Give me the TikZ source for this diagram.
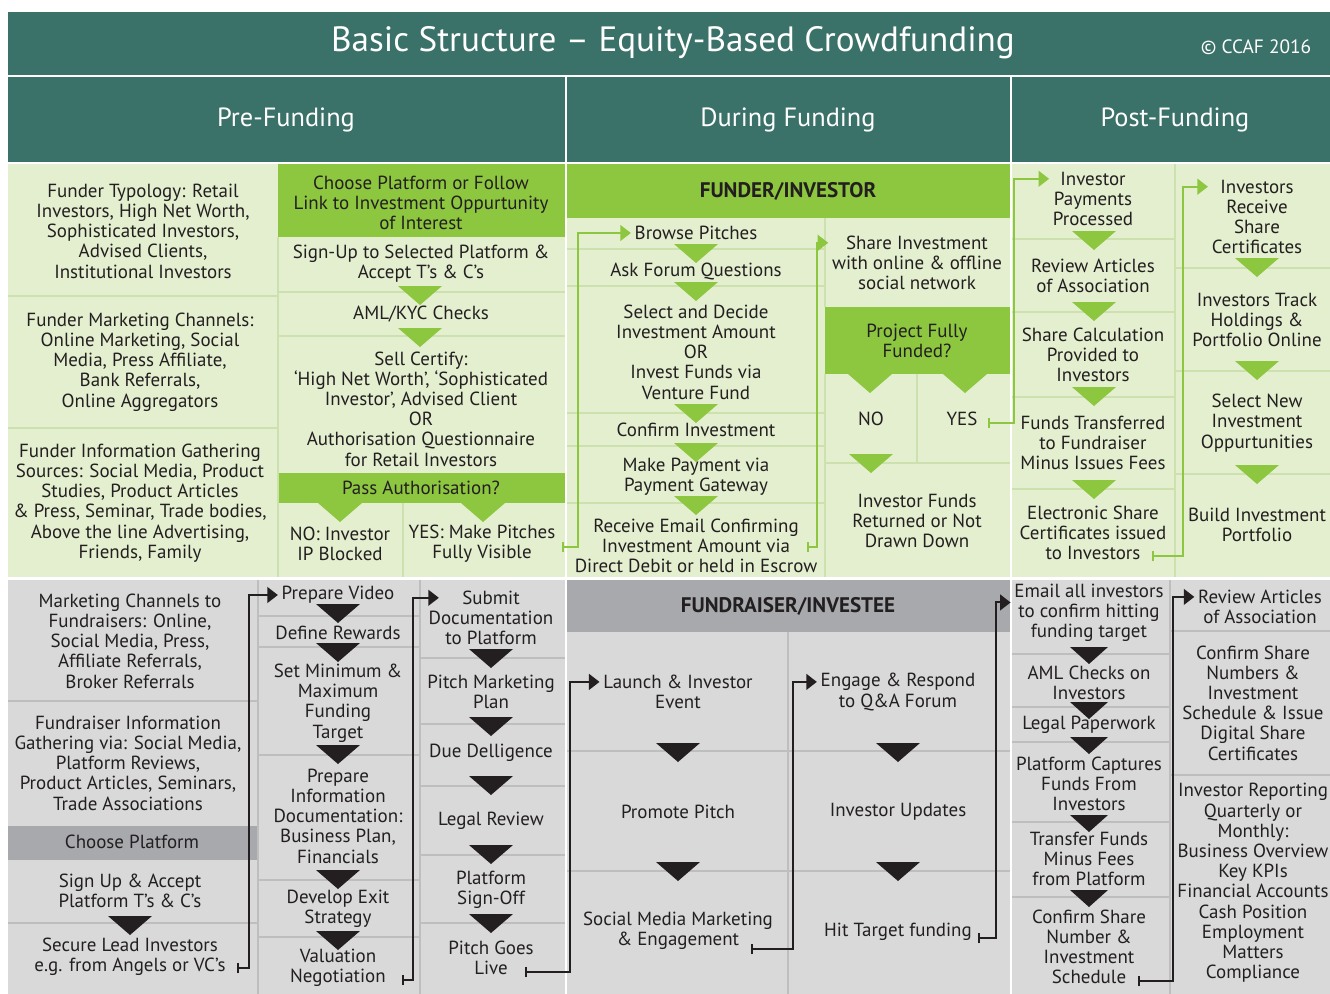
\documentclass[tikz,border=0pt]{standalone}
\usepackage{fontspec}
\setmainfont{PT Sans}
\usetikzlibrary{arrows.meta}
\definecolor{headteal}{RGB}{58,113,104}
\definecolor{leaf}{RGB}{141,198,63}
\definecolor{palegreen}{RGB}{227,239,207}
\definecolor{paleline}{RGB}{205,225,174}
\definecolor{lightgrey}{RGB}{217,217,217}
\definecolor{midgrey}{RGB}{167,169,172}
\definecolor{greyline}{RGB}{190,190,190}
\definecolor{ink}{RGB}{35,31,32}
\begin{document}
\begin{tikzpicture}[x=0.02cm,y=-0.02cm,
  txt/.style={align=center,text=ink,inner sep=2pt,font=\fontsize{10.8}{11.5}\selectfont},
  hd/.style={text=white,font=\fontsize{15}{18}\selectfont},
  lane/.style={text=ink,font=\fontsize{12}{14}\selectfont\bfseries},
  gconn/.style={draw=leaf,line width=1.1pt,{Bar[width=6pt]}-{Triangle[length=6pt,width=9pt]}},
  dconn/.style={draw=ink,line width=1.1pt,{Bar[width=6pt]}-{Triangle[length=6pt,width=9pt]}},
  gsep/.style={draw=paleline,line width=0.9pt},
  dsep/.style={draw=greyline,line width=0.9pt}]

\useasboundingbox[fill=white] (0,0) rectangle (1330,994);

% title and phase heads
\fill[headteal] (8,12) rectangle (1330,75);
\node[text=white,font=\fontsize{20}{24}\selectfont] (title) at (673,43) {Basic Structure -- Equity-Based Crowdfunding};
\node[text=white,font=\fontsize{11}{13}\selectfont] (ccaf) at (1256,47) {© CCAF 2016};
\fill[headteal] (8,77) rectangle (565,162);
\fill[headteal] (567,77) rectangle (1010,162);
\fill[headteal] (1012,77) rectangle (1330,162);
\node[hd] (pre) at (286,120) {Pre-Funding};
\node[hd] (during) at (788,120) {During Funding};
\node[hd] (post) at (1175,120) {Post-Funding};

% backgrounds
\fill[palegreen] (8,164) rectangle (565,577);
\fill[palegreen] (567,164) rectangle (1010,577);
\fill[palegreen] (1012,164) rectangle (1330,577);
\fill[lightgrey] (8,580) rectangle (565,994);
\fill[lightgrey] (567,580) rectangle (1010,994);
\fill[lightgrey] (1012,580) rectangle (1330,994);

\fill[leaf] (278,164) rectangle (565,237);
\fill[leaf] (278,473) rectangle (565,503);
\fill[leaf] (567,164) rectangle (1010,218);
\fill[leaf] (825,307) rectangle (1010,374);
\fill[midgrey] (567,580) rectangle (1010,632);
\fill[midgrey] (8,826) rectangle (258,860);

% separators, funder side
\draw[gsep] (8,296) -- (278,296);
\draw[gsep] (8,428) -- (278,428);
\draw[gsep] (278,237) -- (278,577);
\draw[gsep] (278,292) -- (565,292);
\draw[gsep] (278,336) -- (565,336);
\draw[gsep] (403,503) -- (403,577);
\draw[gsep] (567,249) -- (825,249);
\draw[gsep] (567,286) -- (825,286);
\draw[gsep] (567,413) -- (825,413);
\draw[gsep] (567,446) -- (825,446);
\draw[gsep] (567,503) -- (825,503);
\draw[gsep] (825,218) -- (825,307);
\draw[gsep] (825,374) -- (825,577);
\draw[gsep] (825,463) -- (1010,463);
\draw[gsep] (917,374) -- (917,463);
\draw[gsep] (1012,239) -- (1175,239);
\draw[gsep] (1012,312) -- (1175,312);
\draw[gsep] (1012,397) -- (1175,397);
\draw[gsep] (1012,489) -- (1175,489);
\draw[gsep] (1175,164) -- (1175,577);
\draw[gsep] (1175,268) -- (1330,268);
\draw[gsep] (1175,371) -- (1330,371);
\draw[gsep] (1175,474) -- (1330,474);

% separators, fundraiser side
\draw[dsep] (8,701) -- (258,701);
\draw[dsep] (8,923) -- (258,923);
\draw[dsep] (258,580) -- (258,994);
\draw[dsep] (420,580) -- (420,994);
\draw[dsep] (258,616) -- (420,616);
\draw[dsep] (258,647) -- (420,647);
\draw[dsep] (258,755) -- (420,755);
\draw[dsep] (258,880) -- (420,880);
\draw[dsep] (258,937) -- (420,937);
\draw[dsep] (420,658) -- (565,658);
\draw[dsep] (420,724) -- (565,724);
\draw[dsep] (420,786) -- (565,786);
\draw[dsep] (420,855) -- (565,855);
\draw[dsep] (420,923) -- (565,923);
\draw[dsep] (788,632) -- (788,994);
\draw[dsep] (567,751) -- (1010,751);
\draw[dsep] (567,871) -- (1010,871);
\draw[dsep] (1170,580) -- (1170,994);
\draw[dsep] (1012,654) -- (1170,654);
\draw[dsep] (1012,707) -- (1170,707);
\draw[dsep] (1012,742) -- (1170,742);
\draw[dsep] (1012,822) -- (1170,822);
\draw[dsep] (1012,897) -- (1170,897);
\draw[dsep] (1170,631) -- (1330,631);
\draw[dsep] (1170,775) -- (1330,775);

% flow triangles, funder side
\fill[leaf] (398,286) -- (442,286) -- (420,305) -- cycle;
\fill[leaf] (398,328) -- (442,328) -- (420,347) -- cycle;
\fill[leaf] (318,503) -- (362,503) -- (340,522) -- cycle;
\fill[leaf] (461,503) -- (505,503) -- (483,522) -- cycle;
\fill[leaf] (674,244) -- (718,244) -- (696,263) -- cycle;
\fill[leaf] (674,282) -- (718,282) -- (696,301) -- cycle;
\fill[leaf] (674,404) -- (718,404) -- (696,423) -- cycle;
\fill[leaf] (674,443) -- (718,443) -- (696,462) -- cycle;
\fill[leaf] (674,496) -- (718,496) -- (696,515) -- cycle;
\fill[leaf] (848,374) -- (892,374) -- (870,393) -- cycle;
\fill[leaf] (943,374) -- (987,374) -- (965,393) -- cycle;
\fill[leaf] (849,454) -- (893,454) -- (871,473) -- cycle;
\fill[leaf] (1072,231) -- (1116,231) -- (1094,250) -- cycle;
\fill[leaf] (1072,302) -- (1116,302) -- (1094,321) -- cycle;
\fill[leaf] (1072,387) -- (1116,387) -- (1094,406) -- cycle;
\fill[leaf] (1072,480) -- (1116,480) -- (1094,499) -- cycle;
\fill[leaf] (1235,258) -- (1279,258) -- (1257,277) -- cycle;
\fill[leaf] (1235,361) -- (1279,361) -- (1257,380) -- cycle;
\fill[leaf] (1235,465) -- (1279,465) -- (1257,484) -- cycle;

% flow triangles, fundraiser side
\fill[ink] (108,916) -- (152,916) -- (130,935) -- cycle;
\fill[ink] (316,604) -- (360,604) -- (338,623) -- cycle;
\fill[ink] (316,643) -- (360,643) -- (338,662) -- cycle;
\fill[ink] (316,745) -- (360,745) -- (338,764) -- cycle;
\fill[ink] (316,870) -- (360,870) -- (338,889) -- cycle;
\fill[ink] (316,931) -- (360,931) -- (338,950) -- cycle;
\fill[ink] (469,649) -- (513,649) -- (491,668) -- cycle;
\fill[ink] (469,717) -- (513,717) -- (491,736) -- cycle;
\fill[ink] (469,776) -- (513,776) -- (491,795) -- cycle;
\fill[ink] (469,845) -- (513,845) -- (491,864) -- cycle;
\fill[ink] (469,914) -- (513,914) -- (491,933) -- cycle;
\fill[ink] (656,743) -- (700,743) -- (678,762) -- cycle;
\fill[ink] (656,862) -- (700,862) -- (678,881) -- cycle;
\fill[ink] (876,743) -- (920,743) -- (898,762) -- cycle;
\fill[ink] (876,862) -- (920,862) -- (898,881) -- cycle;
\fill[ink] (1070,647) -- (1108,647) -- (1089,664) -- cycle;
\fill[ink] (1070,702) -- (1108,702) -- (1089,719) -- cycle;
\fill[ink] (1070,737) -- (1108,737) -- (1089,754) -- cycle;
\fill[ink] (1070,815) -- (1108,815) -- (1089,832) -- cycle;
\fill[ink] (1070,890) -- (1108,890) -- (1089,907) -- cycle;

% pre-funding, funder
\node[txt] (typology) at (143,231) {Funder Typology: Retail\\Investors, High Net Worth,\\Sophisticated Investors,\\Advised Clients,\\Institutional Investors};
\node[txt] (fchannels) at (140,362) {Funder Marketing Channels:\\Online Marketing, Social\\Media, Press Affiliate,\\Bank Referrals,\\Online Aggregators};
\node[txt] (fsources) at (140,503) {Funder Information Gathering\\Sources: Social Media, Product\\Studies, Product Articles\\\& Press, Seminar, Trade bodies,\\Above the line Advertising,\\Friends, Family};
\node[txt] (choose) at (421,203) {Choose Platform or Follow\\Link to Investment Oppurtunity\\of Interest};
\node[txt] (signup) at (421,264) {Sign-Up to Selected Platform \&\\Accept T’s \& C’s};
\node[txt] (amlkyc) at (421,314) {AML/KYC Checks};
\node[txt] (certify) at (421,409) {Sell Certify:\\‘High Net Worth’, ‘Sophisticated\\Investor’, Advised Client\\OR\\Authorisation Questionnaire\\for Retail Investors};
\node[txt] (passauth) at (421,488) {Pass Authorisation?};
\node[txt] (noip) at (340,544) {NO: Investor\\IP Blocked};
\node[txt] (yesvis) at (482,544) {YES: Make Pitches\\Fully Visible};

% during funding, funder
\node[lane] (funderlane) at (788,191) {FUNDER/INVESTOR};
\node[txt] (browse) at (696,233) {Browse Pitches};
\node[txt] (askforum) at (696,271) {Ask Forum Questions};
\node[txt] (select) at (696,352) {Select and Decide\\Investment Amount\\OR\\Invest Funds via\\Venture Fund};
\node[txt] (confirm) at (696,430) {Confirm Investment};
\node[txt] (payment) at (696,477) {Make Payment via\\Payment Gateway};
\node[txt] (receive) at (696,546) {Receive Email Confirming\\Investment Amount via\\Direct Debit or held in Escrow};
\node[txt] (share) at (917,263) {Share Investment\\with online \& offline\\social network};
\node[txt] (funded) at (917,341) {Project Fully\\Funded?};
\node[txt] (no) at (871,419) {NO};
\node[txt] (yes) at (962,419) {YES};
\node[txt] (returned) at (917,521) {Investor Funds\\Returned or Not\\Drawn Down};

% post-funding, funder
\node[txt] (payproc) at (1093,199) {Investor\\Payments\\Processed};
\node[txt] (articles) at (1093,276) {Review Articles\\of Association};
\node[txt] (sharecalc) at (1093,355) {Share Calculation\\Provided to\\Investors};
\node[txt] (transferred) at (1093,443) {Funds Transferred\\to Fundraiser\\Minus Issues Fees};
\node[txt] (certs) at (1093,533) {Electronic Share\\Certificates issued\\to Investors};
\node[txt] (receivecert) at (1257,217) {Investors\\Receive\\Share\\Certificates};
\node[txt] (track) at (1257,320) {Investors Track\\Holdings \&\\Portfolio Online};
\node[txt] (selectnew) at (1257,423) {Select New\\Investment\\Oppurtunities};
\node[txt] (build) at (1257,525) {Build Investment\\Portfolio};

% pre-funding, fundraiser
\node[txt] (rchannels) at (130,641) {Marketing Channels to\\Fundraisers: Online,\\Social Media, Press,\\Affiliate Referrals,\\Broker Referrals};
\node[txt] (rsources) at (128,763) {Fundraiser Information\\Gathering via: Social Media,\\Platform Reviews,\\Product Articles, Seminars,\\Trade Associations};
\node[txt] (chooseplat) at (132,842) {Choose Platform};
\node[txt] (signupacc) at (130,891) {Sign Up \& Accept\\Platform T’s \& C’s};
\node[txt] (secure) at (130,957) {Secure Lead Investors\\e.g. from Angels or VC’s};
\node[txt] (video) at (338,595) {Prepare Video};
\node[txt] (rewards) at (338,633) {Define Rewards};
\node[txt] (minmax) at (338,703) {Set Minimum \&\\Maximum\\Funding\\Target};
\node[txt] (prepinfo) at (338,816) {Prepare\\Information\\Documentation:\\Business Plan,\\Financials};
\node[txt] (exit) at (338,909) {Develop Exit\\Strategy};
\node[txt] (valuation) at (338,968) {Valuation\\Negotiation};
\node[txt] (submit) at (491,618) {Submit\\Documentation\\to Platform};
\node[txt] (pitchplan) at (491,692) {Pitch Marketing\\Plan};
\node[txt] (duedil) at (491,753) {Due Delligence};
\node[txt] (legal) at (491,821) {Legal Review};
\node[txt] (signoff) at (491,890) {Platform\\Sign-Off};
\node[txt] (live) at (491,958) {Pitch Goes\\Live};

% during funding, fundraiser
\node[lane] (raiserlane) at (788,606) {FUNDRAISER/INVESTEE};
\node[txt] (launch) at (678,692) {Launch \& Investor\\Event};
\node[txt] (promote) at (678,812) {Promote Pitch};
\node[txt] (social) at (678,931) {Social Media Marketing\\\& Engagement};
\node[txt] (engage) at (898,692) {Engage \& Respond\\to Q\&A Forum};
\node[txt] (updates) at (898,812) {Investor Updates};
\node[txt] (hit) at (898,932) {Hit Target funding};

% post-funding, fundraiser
\node[txt] (email) at (1089,613) {Email all investors\\to confirm hitting\\funding target};
\node[txt] (amlinv) at (1089,683) {AML Checks on\\Investors};
\node[txt] (paperwork) at (1089,725) {Legal Paperwork};
\node[txt] (captures) at (1089,784) {Platform Captures\\Funds From\\Investors};
\node[txt] (transfer) at (1089,859) {Transfer Funds\\Minus Fees\\from Platform};
\node[txt] (confirmsh) at (1089,947) {Confirm Share\\Number \&\\Investment\\Schedule};
\node[txt] (reviewart) at (1260,607) {Review Articles\\of Association};
\node[txt] (confirmnum) at (1253,703) {Confirm Share\\Numbers \&\\Investment\\Schedule \& Issue\\Digital Share\\Certificates};
\node[txt] (reporting) at (1253,883) {Investor Reporting\\Quarterly or\\Monthly:\\Business Overview\\Key KPIs\\Financial Accounts\\Cash Position\\Employment\\Matters\\Compliance};

% connectors
\coordinate (yestick) at (562,547);
\coordinate (viatick) at (807,547);
\coordinate (fundedtick) at (988,423);
\coordinate (issuedtick) at (1152,556);
\coordinate (vctick) at (237,968);
\coordinate (valtick) at (402,980);
\coordinate (livetick) at (525,972);
\coordinate (engtick) at (751,949);
\coordinate (hittick) at (978,938);
\coordinate (schedtick) at (1138,981);
\draw[gconn] (yestick) -- ++(16,0) |- (browse.west);
\draw[gconn] (viatick) -- ++(10,0) |- ([yshift=11.5pt]share.west);
\draw[gconn] (fundedtick) -- ++(26,0) |- ([yshift=11.5pt]payproc.west);
\draw[gconn] (issuedtick) -- ++(31,0) |- ([yshift=17.25pt]receivecert.west);
\draw[dconn] (vctick) -- ++(12,0) |- (video.west);
\draw[dconn] (valtick) -- ++(11,0) |- ([xshift=8pt,yshift=11.5pt]submit.west);
\draw[dconn] (livetick) -- ++(45,0) |- ([yshift=5.75pt]launch.west);
\draw[dconn] (engtick) -- ++(42,0) |- ([yshift=5.75pt]engage.west);
\draw[dconn] (hittick) -- ++(18,0) |- ([yshift=6pt]email.west);
\draw[dconn] (schedtick) -- ++(35,0) |- ([yshift=5.75pt]reviewart.west);
\end{tikzpicture}
\end{document}
